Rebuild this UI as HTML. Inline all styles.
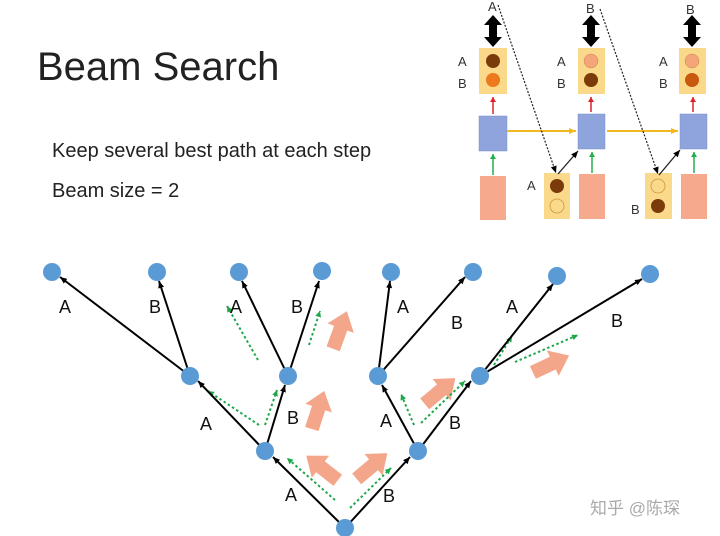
<!DOCTYPE html>
<html><head><meta charset="utf-8"><style>
html,body{margin:0;padding:0;background:#fff;}
svg{display:block;font-family:"Liberation Sans","Noto Sans CJK SC",sans-serif;}
</style></head><body>
<svg width="720" height="536" viewBox="0 0 720 536" xmlns="http://www.w3.org/2000/svg">
<defs>
<marker id="ah" markerWidth="8" markerHeight="8" refX="7" refY="4" orient="auto" markerUnits="userSpaceOnUse"><path d="M0,1 L7,4 L0,7 Z" fill="#000"/></marker>
<marker id="gh" markerWidth="7" markerHeight="7" refX="6" refY="3.5" orient="auto" markerUnits="userSpaceOnUse"><path d="M0,0.5 L6,3.5 L0,6.5 Z" fill="#1fa84a"/></marker>
<marker id="rh" markerWidth="6" markerHeight="6" refX="5" refY="3" orient="auto" markerUnits="userSpaceOnUse"><path d="M0,0 L5,3 L0,6 Z" fill="#e0202a"/></marker>
<marker id="gr" markerWidth="6" markerHeight="6" refX="5" refY="3" orient="auto" markerUnits="userSpaceOnUse"><path d="M0,0 L5,3 L0,6 Z" fill="#22b04a"/></marker>
<marker id="yh" markerWidth="8" markerHeight="8" refX="7" refY="4" orient="auto" markerUnits="userSpaceOnUse"><path d="M0,1 L7,4 L0,7 Z" fill="#f2b81e"/></marker>
<g id="pa"><polygon points="-7,20 7,20 7,-2 14,-2 0,-20 -14,-2 -7,-2" fill="#f4a68a"/></g>
</defs>
<rect width="720" height="536" fill="#fff"/>
<text x="37" y="80" font-size="40" fill="#222">Beam Search</text>
<text x="52" y="157" font-size="20" fill="#222">Keep several best path at each step</text>
<text x="52" y="197" font-size="20" fill="#222">Beam size = 2</text>

<!-- top right diagram -->
<g font-size="13" fill="#333">
<text x="488" y="11">A</text><text x="586" y="13">B</text><text x="686" y="14">B</text>
<text x="458" y="66">A</text><text x="458" y="88">B</text>
<text x="557" y="66">A</text><text x="557" y="88">B</text>
<text x="659" y="66">A</text><text x="659" y="88">B</text>
<text x="527" y="190">A</text><text x="631" y="214">B</text>
</g>
<!-- double arrows -->
<g fill="#000">
<polygon points="493,15 502,25 497,25 497,37 502,37 493,47 484,37 489,37 489,25 484,25"/>
<polygon points="591,15 600,25 595,25 595,37 600,37 591,47 582,37 587,37 587,25 582,25"/>
<polygon points="692,15 701,25 696,25 696,37 701,37 692,47 683,37 688,37 688,25 683,25"/>
</g>
<!-- output boxes -->
<g fill="#fbd98a">
<rect x="479" y="48" width="28" height="46"/><rect x="578" y="48" width="27" height="46"/><rect x="679" y="48" width="27" height="46"/>
<rect x="544" y="173" width="26" height="46"/><rect x="645" y="173" width="27" height="46"/>
</g>
<circle cx="493" cy="61" r="7" fill="#7a3a0a"/><circle cx="493" cy="80" r="7" fill="#ec7a1c"/>
<circle cx="591" cy="61" r="7" fill="#f4a67a" stroke="#c98050" stroke-width="0.5"/><circle cx="591" cy="80" r="7" fill="#7a3a0a"/>
<circle cx="692" cy="61" r="7" fill="#f4a67a" stroke="#c98050" stroke-width="0.5"/><circle cx="692" cy="80" r="7" fill="#c85a10"/>
<circle cx="557" cy="186" r="7" fill="#7a3a0a"/><circle cx="557" cy="206" r="7" fill="#fbd98a" stroke="#c99a40" stroke-width="0.8"/>
<circle cx="658" cy="186" r="7" fill="#fbd98a" stroke="#c99a40" stroke-width="0.8"/><circle cx="658" cy="206" r="7" fill="#7a3a0a"/>
<!-- blue boxes -->
<g fill="#8fa3dc" stroke="#7a8fc8" stroke-width="0.5">
<rect x="479" y="116" width="28" height="35"/><rect x="578" y="114" width="27" height="35"/><rect x="680" y="114" width="27" height="35"/>
</g>
<!-- pink inputs -->
<g fill="#f6a98c">
<rect x="480" y="176" width="26" height="44"/><rect x="579" y="174" width="26" height="45"/><rect x="681" y="174" width="26" height="45"/>
</g>
<g stroke-width="1.5">
<line x1="493" y1="114" x2="493" y2="97" stroke="#e0202a" marker-end="url(#rh)"/>
<line x1="591" y1="112" x2="591" y2="97" stroke="#e0202a" marker-end="url(#rh)"/>
<line x1="693" y1="112" x2="693" y2="97" stroke="#e0202a" marker-end="url(#rh)"/>
<line x1="493" y1="175" x2="493" y2="154" stroke="#22b04a" marker-end="url(#gr)"/>
<line x1="592" y1="173" x2="592" y2="152" stroke="#22b04a" marker-end="url(#gr)"/>
<line x1="694" y1="173" x2="694" y2="152" stroke="#22b04a" marker-end="url(#gr)"/>
</g>
<line x1="507" y1="131" x2="576" y2="131" stroke="#f2b81e" stroke-width="2" marker-end="url(#yh)"/>
<line x1="607" y1="131" x2="678" y2="131" stroke="#f2b81e" stroke-width="2" marker-end="url(#yh)"/>
<line x1="498" y1="5" x2="556" y2="173" stroke="#222" stroke-width="1.2" stroke-dasharray="2,1.5" marker-end="url(#ah)"/>
<line x1="600" y1="9" x2="658" y2="174" stroke="#222" stroke-width="1.2" stroke-dasharray="2,1.5" marker-end="url(#ah)"/>
<line x1="558" y1="174" x2="578" y2="151" stroke="#222" stroke-width="1.3" marker-end="url(#ah)"/>
<line x1="659" y1="175" x2="680" y2="150" stroke="#222" stroke-width="1.3" marker-end="url(#ah)"/>

<!-- pink big arrows -->
<use href="#pa" transform="translate(340,330) rotate(20)"/>
<use href="#pa" transform="translate(318,410) rotate(18)"/>
<use href="#pa" transform="translate(322,468) rotate(-52)"/>
<use href="#pa" transform="translate(372,466) rotate(50)"/>
<use href="#pa" transform="translate(440,391) rotate(50)"/>
<use href="#pa" transform="translate(551,364) rotate(65)"/>

<!-- green dotted -->
<g stroke="#1fa84a" stroke-width="2" stroke-dasharray="2.5,2.5" fill="none">
<line x1="335" y1="500" x2="287" y2="458" marker-end="url(#gh)"/>
<line x1="350" y1="508" x2="391" y2="468" marker-end="url(#gh)"/>
<line x1="259" y1="425" x2="208" y2="391" marker-end="url(#gh)"/>
<line x1="265" y1="425" x2="277" y2="390" marker-end="url(#gh)"/>
<line x1="258" y1="360" x2="227" y2="306" marker-end="url(#gh)"/>
<line x1="309" y1="345" x2="320" y2="311" marker-end="url(#gh)"/>
<line x1="414" y1="425" x2="401" y2="394" marker-end="url(#gh)"/>
<line x1="421" y1="423" x2="465" y2="381" marker-end="url(#gh)"/>
<line x1="494" y1="365" x2="512" y2="336" marker-end="url(#gh)"/>
<line x1="515" y1="362" x2="578" y2="335" marker-end="url(#gh)"/>
</g>

<!-- tree edges -->
<g stroke="#000" stroke-width="2" marker-end="url(#ah)">
<line x1="345" y1="528" x2="273" y2="457"/>
<line x1="345" y1="528" x2="410" y2="457"/>
<line x1="265" y1="451" x2="198" y2="381"/>
<line x1="265" y1="451" x2="285" y2="385"/>
<line x1="418" y1="451" x2="382" y2="385"/>
<line x1="418" y1="451" x2="471" y2="381"/>
<line x1="190" y1="376" x2="60" y2="277"/>
<line x1="190" y1="376" x2="159" y2="281"/>
<line x1="288" y1="376" x2="242" y2="281"/>
<line x1="288" y1="376" x2="319" y2="281"/>
<line x1="378" y1="376" x2="390" y2="281"/>
<line x1="378" y1="376" x2="465" y2="277"/>
<line x1="480" y1="376" x2="553" y2="284"/>
<line x1="480" y1="376" x2="642" y2="279"/>
</g>
<g fill="#5b9bd5">
<circle cx="345" cy="528" r="9"/>
<circle cx="265" cy="451" r="9"/><circle cx="418" cy="451" r="9"/>
<circle cx="190" cy="376" r="9"/><circle cx="288" cy="376" r="9"/><circle cx="378" cy="376" r="9"/><circle cx="480" cy="376" r="9"/>
<circle cx="52" cy="272" r="9"/><circle cx="157" cy="272" r="9"/><circle cx="239" cy="272" r="9"/><circle cx="322" cy="271" r="9"/>
<circle cx="391" cy="272" r="9"/><circle cx="473" cy="272" r="9"/><circle cx="557" cy="276" r="9"/><circle cx="650" cy="274" r="9"/>
</g>
<g font-size="18" fill="#111">
<text x="59" y="313">A</text><text x="149" y="313">B</text><text x="230" y="313">A</text><text x="291" y="313">B</text>
<text x="397" y="313">A</text><text x="451" y="329">B</text><text x="506" y="313">A</text><text x="611" y="327">B</text>
<text x="200" y="430">A</text><text x="287" y="424">B</text><text x="380" y="427">A</text><text x="449" y="429">B</text>
<text x="285" y="501">A</text><text x="383" y="502">B</text>
</g>
<text x="590" y="514" font-size="17" fill="#aaa">知乎 @陈琛</text>
</svg>
</body></html>
